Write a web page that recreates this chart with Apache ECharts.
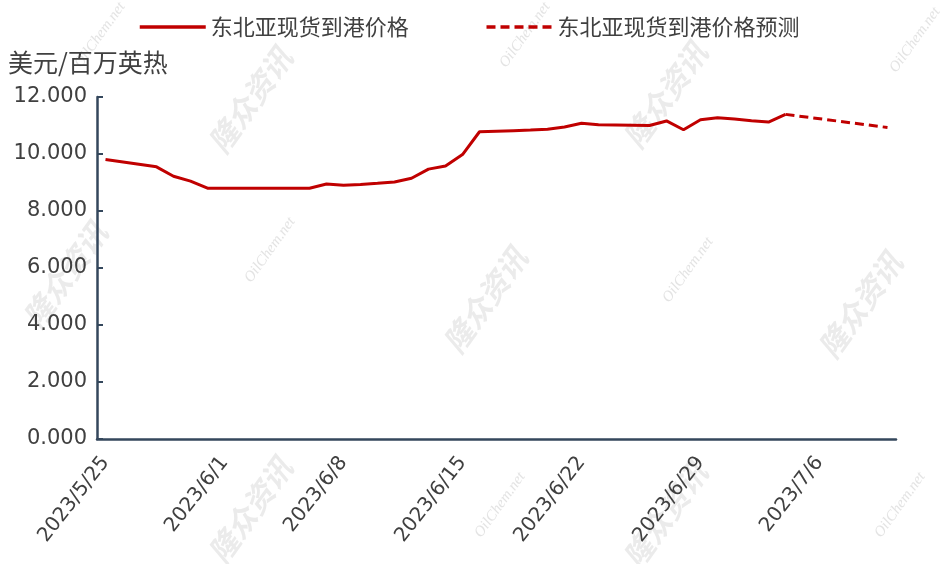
<!DOCTYPE html>
<html>
<head>
<meta charset="utf-8">
<script src="https://cdn.jsdelivr.net/npm/echarts@6/dist/echarts.min.js"></script>
<style>html,body{margin:0;padding:0;background:#fff;}#c{width:940px;height:564px;}</style>
</head>
<body>
<div id="c"></div>
<script>
const categories = [
 '2023/5/25','2023/5/26','2023/5/27','2023/5/28','2023/5/29','2023/5/30','2023/5/31',
 '2023/6/1','2023/6/2','2023/6/3','2023/6/4','2023/6/5','2023/6/6','2023/6/7',
 '2023/6/8','2023/6/9','2023/6/10','2023/6/11','2023/6/12','2023/6/13','2023/6/14',
 '2023/6/15','2023/6/16','2023/6/17','2023/6/18','2023/6/19','2023/6/20','2023/6/21',
 '2023/6/22','2023/6/23','2023/6/24','2023/6/25','2023/6/26','2023/6/27','2023/6/28',
 '2023/6/29','2023/6/30','2023/7/1','2023/7/2','2023/7/3','2023/7/4','2023/7/5',
 '2023/7/6','2023/7/7','2023/7/8','2023/7/9','2023/7/10'
];
const spotPrice = [
 9.81, null, null, 9.55, 9.22, 9.05, 8.80,
 null, null, null, null, null, 8.80, 8.95,
 8.90, 8.93, 8.97, 9.02, 9.15, 9.47, 9.58,
 9.98, 10.78, 10.80, 10.82, 10.84, 10.87, 10.95,
 11.08, 11.03, 11.02, 11.01, 11.00, 11.16, 10.85,
 11.20, 11.27, 11.23, 11.17, 11.12, 11.39, null,
 null, null, null, null, null
];
const forecastPrice = [
 null, null, null, null, null, null, null,
 null, null, null, null, null, null, null,
 null, null, null, null, null, null, null,
 null, null, null, null, null, null, null,
 null, null, null, null, null, null, null,
 null, null, null, null, null, 11.39, null,
 null, null, null, null, 10.93
];
const seriesNames = ['东北亚现货到港价格', '东北亚现货到港价格预测'];
const yAxisName = '美元/百万英热';

const chart = echarts.init(document.getElementById('c'));
const axisColor = '#34475c';
const wmA = [[250,100],[665,95],[65,275],[485,300],[860,305],[250,510],[665,515]];
const wmB = [[100,35],[525,35],[915,40],[270,250],[688,270],[500,505],[900,505]];
const graphics = [];
wmA.forEach(p => graphics.push({type:'text', x:p[0], y:p[1], rotation: 0.95, z: -1,
  style:{text:'隆众资讯', fill:'rgba(205,205,205,0.4)', font:'italic bold 30px "Noto Sans CJK SC"', align:'center', verticalAlign:'middle'}}));
wmB.forEach(p => graphics.push({type:'text', x:p[0], y:p[1], rotation: 0.95, z: -1,
  style:{text:'OilChem.net', fill:'rgba(200,200,200,0.5)', font:'italic 15px "Liberation Serif"', align:'center', verticalAlign:'middle'}}));

chart.setOption({
  animation: false,
  backgroundColor: '#fff',
  graphic: graphics,
  legend: {
    left: 133, top: 11,
    itemWidth: 66, itemHeight: 14, itemGap: 76,
    itemStyle: {opacity: 0},
    lineStyle: {width: 3.5},
    textStyle: {fontFamily: '"Noto Sans CJK SC"', fontSize: 22, color: '#404040'},
    data: seriesNames
  },
  grid: {left: 97, right: 44, top: 97, bottom: 125, containLabel: false},
  xAxis: {
    type: 'category',
    data: categories,
    boundaryGap: true,
    axisLine: {lineStyle: {color: axisColor, width: 2.5}},
    axisTick: {inside: true, length: 6, interval: 6, lineStyle: {color: axisColor, width: 2}},
    axisLabel: {interval: 6, rotate: 52, margin: 20, fontFamily: '"DejaVu Sans"', fontSize: 20, color: '#404040'},
    splitLine: {show: false}
  },
  yAxis: {
    type: 'value',
    min: 0, max: 12, interval: 2,
    name: yAxisName,
    nameLocation: 'end',
    nameGap: 22,
    nameTextStyle: {fontFamily: '"Noto Sans CJK SC"', fontSize: 25, color: '#404040', align: 'left', padding: [0,0,0,-89]},
    axisLine: {show: true, lineStyle: {color: axisColor, width: 2.5}},
    axisTick: {show: true, inside: true, length: 6, lineStyle: {color: axisColor, width: 2}},
    axisLabel: {formatter: v => v.toFixed(3), fontFamily: '"DejaVu Sans"', fontSize: 21, color: '#404040', margin: 10},
    splitLine: {show: false}
  },
  series: [
    {name: seriesNames[0], type: 'line', data: spotPrice, connectNulls: true, symbol: 'none',
     lineStyle: {color: '#C00000', width: 3}, itemStyle: {color: '#C00000'}},
    {name: seriesNames[1], type: 'line', data: forecastPrice, connectNulls: true, symbol: 'none',
     lineStyle: {color: '#C00000', width: 3, type: [9, 5]}, itemStyle: {color: '#C00000'}}
  ]
});
</script>
</body>
</html>
